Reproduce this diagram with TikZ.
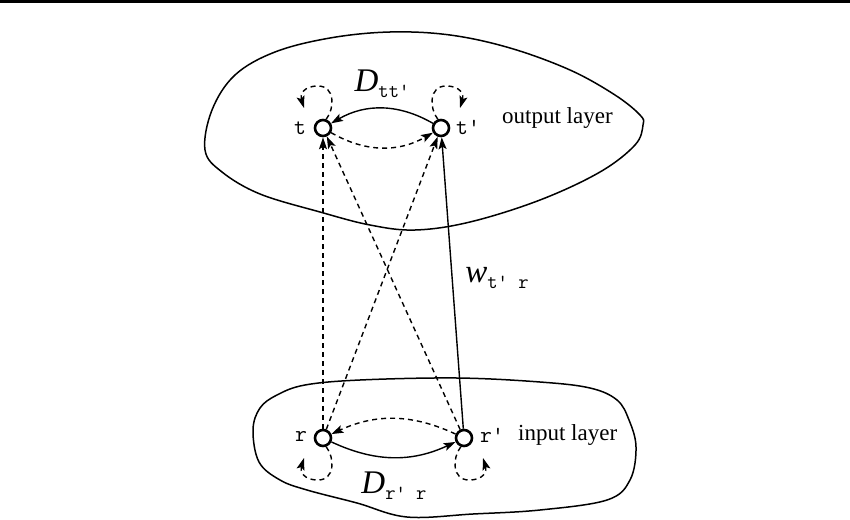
\documentclass[tikz,border=0pt]{standalone}
\usepackage{fontspec}
\setmainfont{Liberation Serif}
\usetikzlibrary{arrows.meta}
\newcommand\lsub[1]{\raisebox{-6pt}{\fontsize{20}{20}\selectfont\ttfamily #1}}
\begin{document}
\begin{tikzpicture}[x=1pt,y=-1pt,
  neuron/.style={circle,draw,line width=2.6pt,minimum size=16pt,inner sep=0pt},
  blob/.style={line width=1.5pt},
  conn/.style={line width=1.4pt,-{Stealth[length=12pt,width=8pt,inset=2.5pt]}},
  dsh/.style={dash pattern=on 5pt off 4pt},
  lay/.style={font=\fontsize{23}{23}\selectfont,anchor=base west,inner sep=0pt},
  nlab/.style={font=\fontsize{23}{23}\selectfont\ttfamily,inner sep=0pt},
  wlab/.style={font=\fontsize{33}{33}\selectfont,inner sep=0pt}]
\useasboundingbox (0,0) rectangle (850,519);
\fill (0,0) rectangle (850,2.6);
% layers
\draw[blob] plot[smooth cycle,tension=0.6] coordinates {
 (205,150) (212,110) (235,75) (275,52) (330,38) (390,32) (450,35) (510,48)
 (570,70) (615,95) (640,115) (643,125) (635,145) (600,172) (540,200)
 (470,222) (415,230) (370,225) (320,212) (260,194) (222,172)};
\draw[blob] plot[smooth cycle,tension=0.6] coordinates {
 (253,430) (260,408) (277,395) (305,385) (360,380) (457,378) (540,382)
 (590,388) (617,400) (629,420) (636,447) (630,480) (607,500) (540,510)
 (473,514) (407,517) (357,503) (307,490) (280,480) (259,462)};
% neurons
\node[neuron] (t)  at (323,128) {};
\node[neuron] (tp) at (441,128) {};
\node[neuron] (r)  at (323,438) {};
\node[neuron] (rp) at (464,438) {};
% labels
\node[nlab] (lt)  at (300,128) {t};
\node[nlab] (ltp) at (468,127) {t'};
\node[nlab] (lr)  at (301,436) {r};
\node[nlab] (lrp) at (492,435) {r'};
\node[lay] (out) at (502,123) {output layer};
\node[lay] (in)  at (518,440) {input layer};
\node[wlab] (dt) at (382,84) {\textit{D}\lsub{tt'}};
\node[wlab] (dr) at (394,486) {\textit{D}\lsub{r' r}};
\node[wlab] (w)  at (497,278) {\textit{w}\lsub{t' r}};
% loop points
\coordinate (ltt) at (318,86);
\coordinate (lt1) at (304,108);
\coordinate (ltpt) at (446,86);
\coordinate (lt2) at (460,108);
\coordinate (lrb) at (318,480);
\coordinate (lr1) at (304,458);
\coordinate (lrpb) at (469,480);
\coordinate (lr2) at (483,458);
% lateral connections
\draw[conn] (tp) to[bend right=30] (t);
\draw[conn,dsh] (t) to[bend right=30] (tp);
\draw[conn,dsh] (rp) to[bend right=25] (r);
\draw[conn] (r) to[bend right=25] (rp);
% self loops
\draw[conn,dsh] (t.70) .. controls (335,108) and (335,86) .. (ltt)
  .. controls (303,86) and (300,95) .. (lt1);
\draw[conn,dsh] (tp.110) .. controls (429,108) and (429,86) .. (ltpt)
  .. controls (461,86) and (464,95) .. (lt2);
\draw[conn,dsh] (r.-70) .. controls (335,458) and (335,480) .. (lrb)
  .. controls (303,480) and (300,471) .. (lr1);
\draw[conn,dsh] (rp.-110) .. controls (452,458) and (452,480) .. (lrpb)
  .. controls (484,480) and (487,471) .. (lr2);
% feed-forward
\draw[conn,dsh] (r) -- (t);
\draw[conn,dsh] (rp) -- (t);
\draw[conn,dsh] (r) -- (tp);
\draw[conn] (rp) -- (tp);
\end{tikzpicture}
\end{document}
